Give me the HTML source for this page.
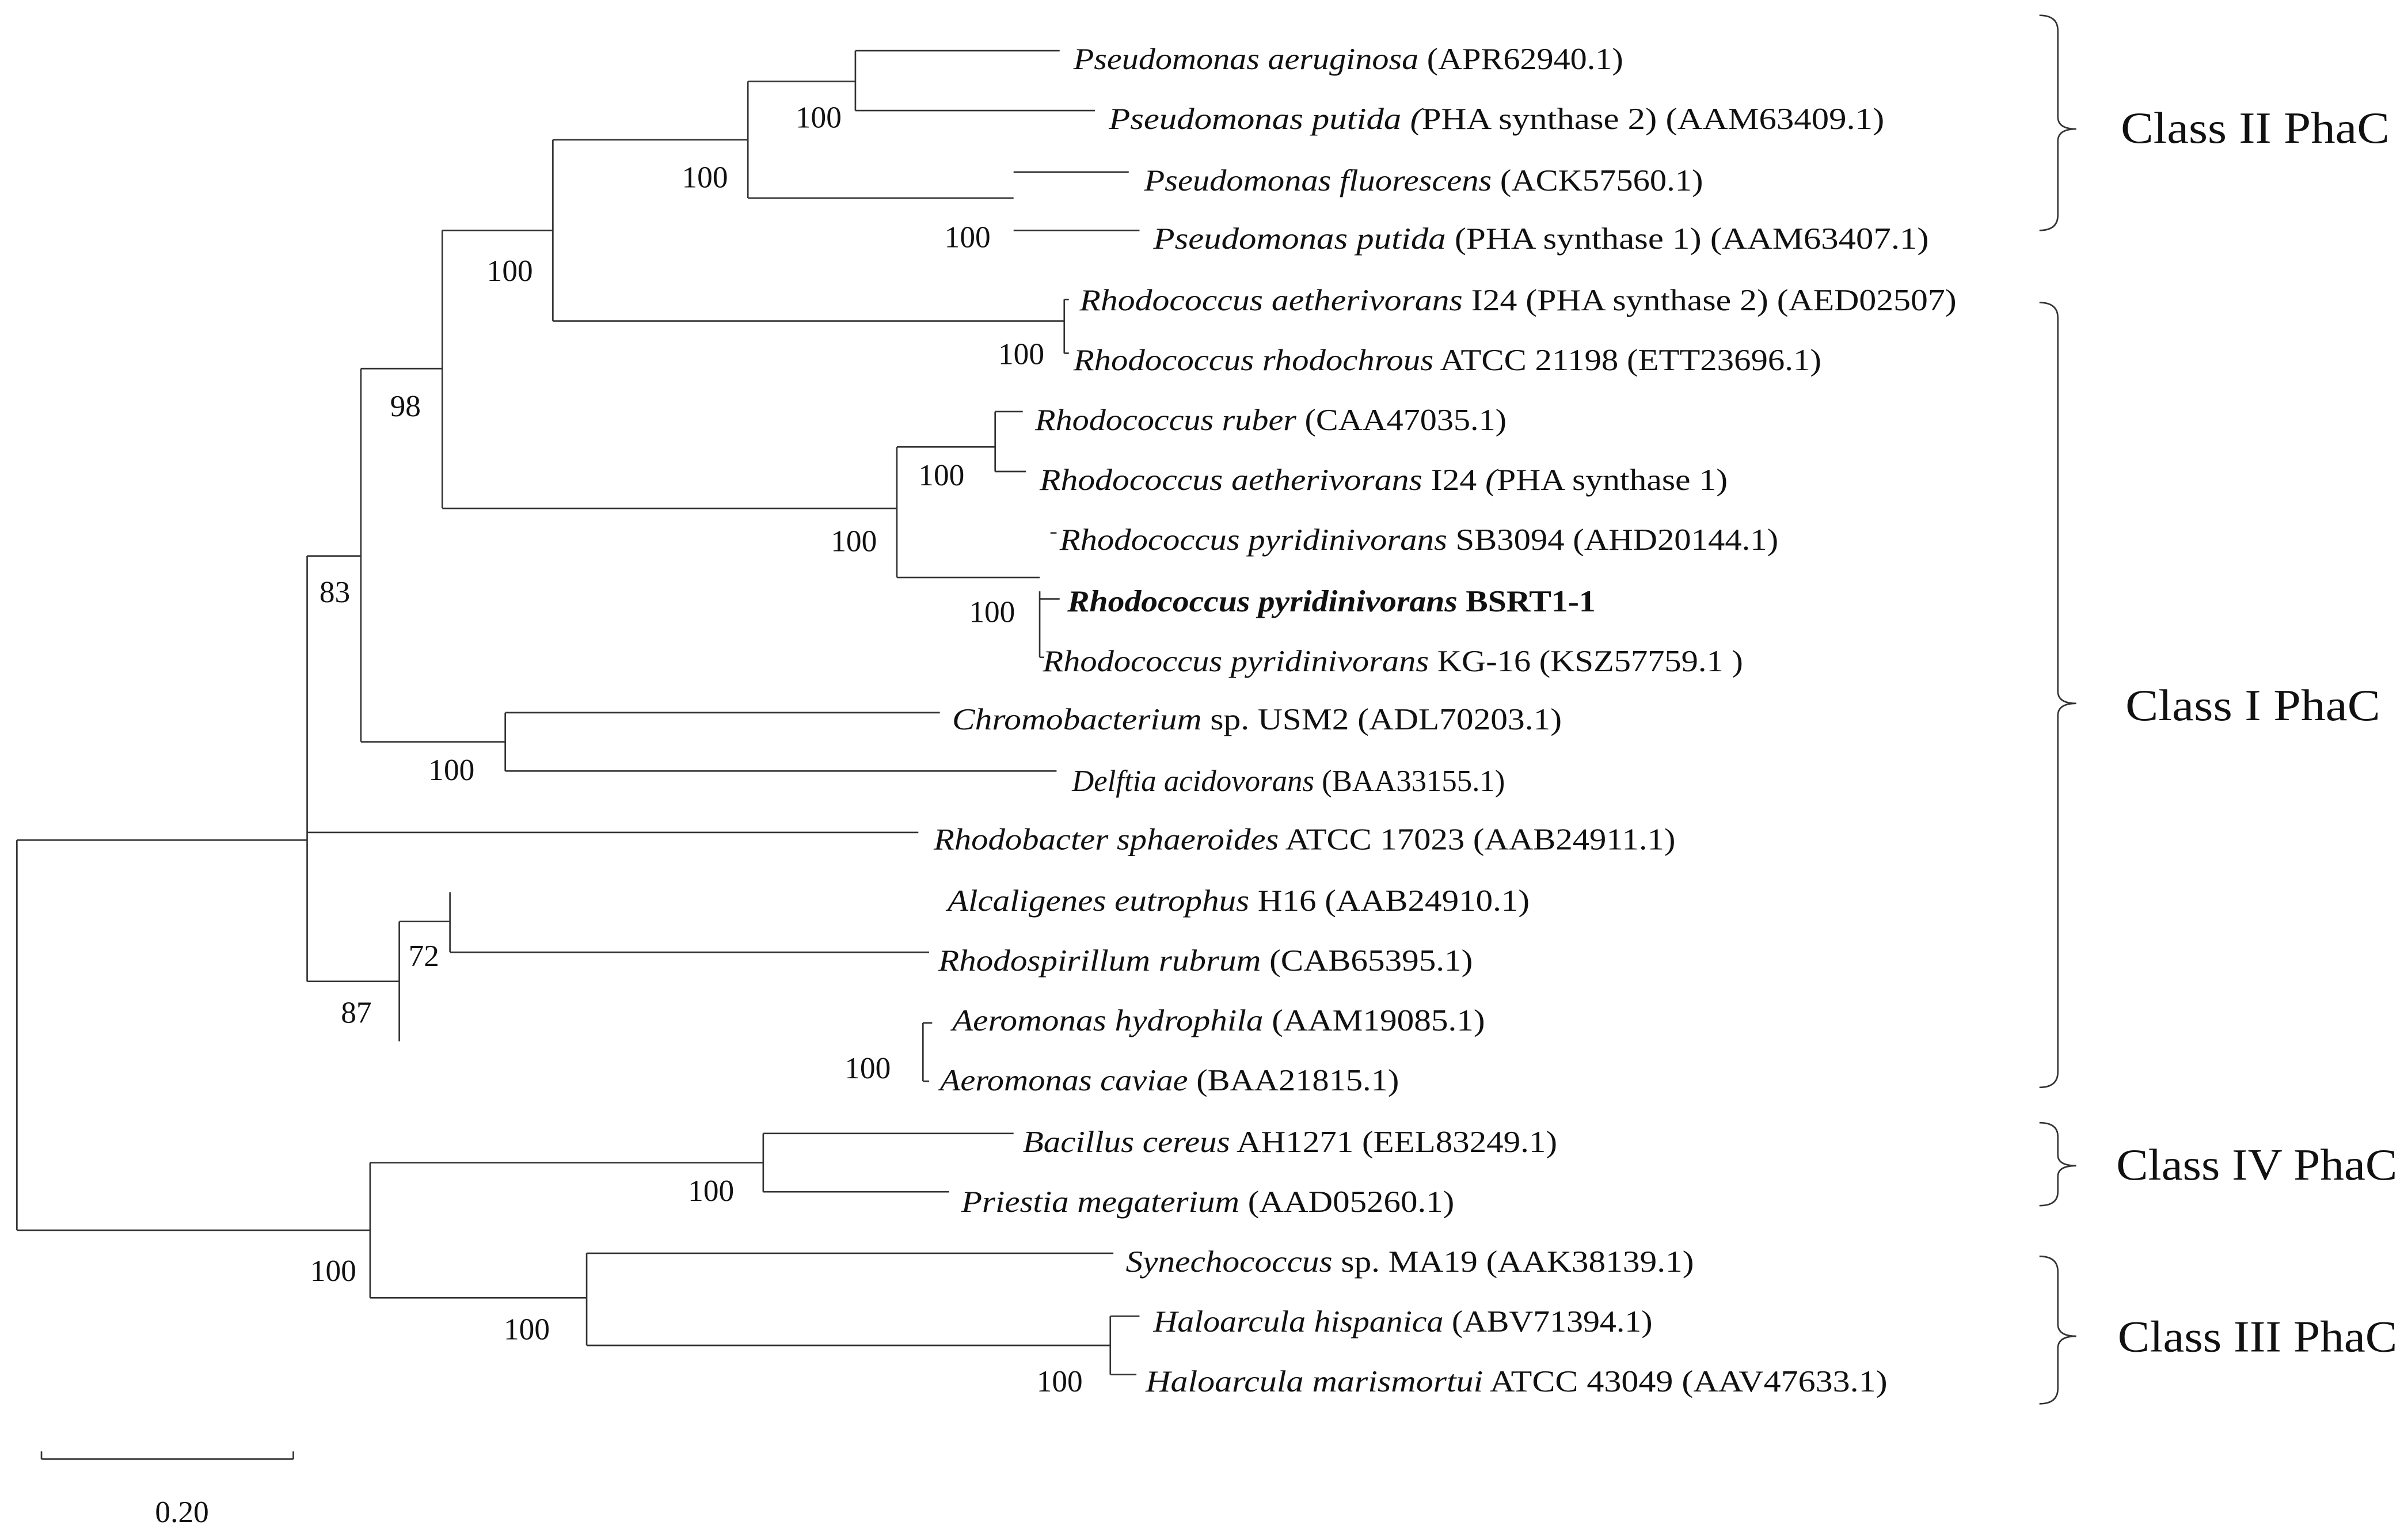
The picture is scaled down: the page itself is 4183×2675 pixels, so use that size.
<!DOCTYPE html>
<html><head><meta charset="utf-8"><style>
html,body{margin:0;padding:0;background:#fff;}
svg{display:block;}
text{font-family:"Liberation Serif",serif;font-size:20px;fill:#111;}
.b text{font-size:20px;}
.c text{font-size:29px;}
</style></head><body>
<svg width="4183" height="2675" viewBox="0 0 1568 1002.7" preserveAspectRatio="none" xmlns="http://www.w3.org/2000/svg">
<g stroke="#333" stroke-width="1" fill="none">
<path d="M11 547V801M11 547H200M11 801H241"/>
<path d="M200 362V639M200 362H235M200 542H598M200 639H260"/>
<path d="M235 240V483M235 240H288M235 483H329"/>
<path d="M288 150V331M288 150H360M288 331H584"/>
<path d="M360 91V209M360 91H487M360 209H693"/>
<path d="M487 53V129M487 53H557M487 129H660"/>
<path d="M557 33V72M557 33H690M557 72H713"/>
<path d="M660 112H735M660 150H742"/>
<path d="M693 195V230M693 195H696M693 230H696"/>
<path d="M584 291V376M584 291H648M584 376H677"/>
<path d="M648 268V307M648 268H666M648 307H668"/>
<path d="M677 385V428M684 347H688M677 390H690M677 428H680"/>
<path d="M329 464V502M329 464H612M329 502H688"/>
<path d="M260 600V678M260 600H293"/>
<path d="M293 581V620M293 620H605"/>
<path d="M601 666V704M601 666H607M601 704H605"/>
<path d="M241 757V845M241 757H497M241 845H382"/>
<path d="M497 738V776M497 738H660M497 776H618"/>
<path d="M382 816V876M382 816H725M382 876H723"/>
<path d="M723 857V895M723 857H742M723 895H740"/>
<path d="M27 950H191M27 945V950M191 945V950"/>
<path d="M1328 10Q1340 10 1340 20V76Q1340 84 1352 84Q1340 84 1340 92V140Q1340 150 1328 150"/>
<path d="M1328 197Q1340 197 1340 207V450Q1340 458 1352 458Q1340 458 1340 466V698Q1340 708 1328 708"/>
<path d="M1328 731Q1340 731 1340 740V752Q1340 759 1352 759Q1340 759 1340 766V776Q1340 785 1328 785"/>
<path d="M1328 818Q1340 818 1340 828V862Q1340 870 1352 870Q1340 870 1340 878V904Q1340 914 1328 914"/>
</g>
<g>
<text x="699" y="45" textLength="358" lengthAdjust="spacingAndGlyphs"><tspan font-style="italic">Pseudomonas aeruginosa</tspan> (APR62940.1)</text>
<text x="722" y="84" textLength="505" lengthAdjust="spacingAndGlyphs"><tspan font-style="italic">Pseudomonas putida (</tspan>PHA synthase 2) (AAM63409.1)</text>
<text x="745" y="124" textLength="364" lengthAdjust="spacingAndGlyphs"><tspan font-style="italic">Pseudomonas fluorescens</tspan> (ACK57560.1)</text>
<text x="751" y="162" textLength="505" lengthAdjust="spacingAndGlyphs"><tspan font-style="italic">Pseudomonas putida</tspan> (PHA synthase 1) (AAM63407.1)</text>
<text x="703" y="202" textLength="571" lengthAdjust="spacingAndGlyphs"><tspan font-style="italic">Rhodococcus aetherivorans</tspan> I24 (PHA synthase 2) (AED02507)</text>
<text x="699" y="241" textLength="487" lengthAdjust="spacingAndGlyphs"><tspan font-style="italic">Rhodococcus rhodochrous</tspan> ATCC 21198 (ETT23696.1)</text>
<text x="674" y="280" textLength="307" lengthAdjust="spacingAndGlyphs"><tspan font-style="italic">Rhodococcus ruber</tspan> (CAA47035.1)</text>
<text x="677" y="319" textLength="448" lengthAdjust="spacingAndGlyphs"><tspan font-style="italic">Rhodococcus aetherivorans</tspan> I24 <tspan font-style="italic">(</tspan>PHA synthase 1)</text>
<text x="690" y="358" textLength="468" lengthAdjust="spacingAndGlyphs"><tspan font-style="italic">Rhodococcus pyridinivorans</tspan> SB3094 (AHD20144.1)</text>
<text x="695" y="398" font-weight="bold" textLength="344" lengthAdjust="spacingAndGlyphs"><tspan font-style="italic">Rhodococcus pyridinivorans</tspan> BSRT1-1</text>
<text x="679" y="437" textLength="456" lengthAdjust="spacingAndGlyphs"><tspan font-style="italic">Rhodococcus pyridinivorans</tspan> KG-16 (KSZ57759.1 )</text>
<text x="620" y="475" textLength="397" lengthAdjust="spacingAndGlyphs"><tspan font-style="italic">Chromobacterium</tspan> sp. USM2 (ADL70203.1)</text>
<text x="698" y="515" textLength="282" lengthAdjust="spacingAndGlyphs"><tspan font-style="italic">Delftia acidovorans</tspan> (BAA33155.1)</text>
<text x="608" y="553" textLength="483" lengthAdjust="spacingAndGlyphs"><tspan font-style="italic">Rhodobacter sphaeroides</tspan> ATCC 17023 (AAB24911.1)</text>
<text x="617" y="593" textLength="379" lengthAdjust="spacingAndGlyphs"><tspan font-style="italic">Alcaligenes eutrophus</tspan> H16 (AAB24910.1)</text>
<text x="611" y="632" textLength="348" lengthAdjust="spacingAndGlyphs"><tspan font-style="italic">Rhodospirillum rubrum</tspan> (CAB65395.1)</text>
<text x="620" y="671" textLength="347" lengthAdjust="spacingAndGlyphs"><tspan font-style="italic">Aeromonas hydrophila</tspan> (AAM19085.1)</text>
<text x="612" y="710" textLength="299" lengthAdjust="spacingAndGlyphs"><tspan font-style="italic">Aeromonas caviae</tspan> (BAA21815.1)</text>
<text x="666" y="750" textLength="348" lengthAdjust="spacingAndGlyphs"><tspan font-style="italic">Bacillus cereus</tspan> AH1271 (EEL83249.1)</text>
<text x="626" y="789" textLength="321" lengthAdjust="spacingAndGlyphs"><tspan font-style="italic">Priestia megaterium</tspan> (AAD05260.1)</text>
<text x="733" y="828" textLength="370" lengthAdjust="spacingAndGlyphs"><tspan font-style="italic">Synechococcus</tspan> sp. MA19 (AAK38139.1)</text>
<text x="751" y="867" textLength="325" lengthAdjust="spacingAndGlyphs"><tspan font-style="italic">Haloarcula hispanica</tspan> (ABV71394.1)</text>
<text x="746" y="906" textLength="483" lengthAdjust="spacingAndGlyphs"><tspan font-style="italic">Haloarcula marismortui</tspan> ATCC 43049 (AAV47633.1)</text>
</g>
<g class="b">
<text x="518" y="83">100</text>
<text x="444" y="122">100</text>
<text x="615" y="161">100</text>
<text x="317" y="183">100</text>
<text x="650" y="237">100</text>
<text x="254" y="271">98</text>
<text x="598" y="316">100</text>
<text x="541" y="359">100</text>
<text x="631" y="405">100</text>
<text x="208" y="392">83</text>
<text x="279" y="508">100</text>
<text x="266" y="629">72</text>
<text x="222" y="666">87</text>
<text x="550" y="702">100</text>
<text x="448" y="782">100</text>
<text x="202" y="834">100</text>
<text x="328" y="872">100</text>
<text x="675" y="906">100</text>
<text x="101" y="991">0.20</text>
</g>
<g class="c">
<text x="1381" y="93" textLength="175" lengthAdjust="spacingAndGlyphs">Class II PhaC</text>
<text x="1384" y="469" textLength="166" lengthAdjust="spacingAndGlyphs">Class I PhaC</text>
<text x="1378" y="768" textLength="183" lengthAdjust="spacingAndGlyphs">Class IV PhaC</text>
<text x="1379" y="880" textLength="182" lengthAdjust="spacingAndGlyphs">Class III PhaC</text>
</g>
</svg>
</body></html>
